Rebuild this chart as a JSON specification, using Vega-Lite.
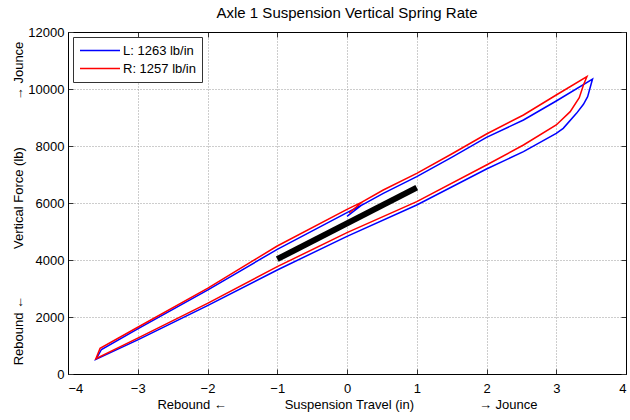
{
  "$schema": "https://vega.github.io/schema/vega-lite/v6.json",
  "width": 558,
  "height": 342,
  "autosize": {"type": "none"},
  "padding": {"left": 68, "top": 32, "right": 4, "bottom": 46},
  "background": "white",
  "config": {
    "font": "Liberation Sans",
    "view": {"stroke": "black", "strokeWidth": 1},
    "axis": {
      "labelFont": "Liberation Sans",
      "labelFontSize": 13,
      "labelColor": "black",
      "titleFont": "Liberation Sans",
      "titleFontSize": 13,
      "titleFontWeight": "normal",
      "titleColor": "black",
      "domainColor": "black",
      "tickColor": "#333",
      "gridColor": "#9a9a9a",
      "gridDash": [1, 2],
      "gridWidth": 1
    }
  },
  "title": {
    "text": "Axle 1 Suspension Vertical Spring Rate",
    "font": "Liberation Sans",
    "fontSize": 15,
    "fontWeight": "normal",
    "color": "black",
    "anchor": "middle",
    "offset": 5
  },
  "datasets": {
    "loops": [
      {"side": "L: 1263 lb/in", "seq": 1, "travel": 0.0, "force": 5530},
      {"side": "L: 1263 lb/in", "seq": 2, "travel": 0.2, "force": 5910},
      {"side": "L: 1263 lb/in", "seq": 3, "travel": 0.52, "force": 6340},
      {"side": "L: 1263 lb/in", "seq": 4, "travel": 1.0, "force": 6924},
      {"side": "L: 1263 lb/in", "seq": 5, "travel": 1.5, "force": 7600},
      {"side": "L: 1263 lb/in", "seq": 6, "travel": 2.0, "force": 8304},
      {"side": "L: 1263 lb/in", "seq": 7, "travel": 2.53, "force": 8912},
      {"side": "L: 1263 lb/in", "seq": 8, "travel": 3.0, "force": 9579},
      {"side": "L: 1263 lb/in", "seq": 9, "travel": 3.52, "force": 10350},
      {"side": "L: 1263 lb/in", "seq": 10, "travel": 3.45, "force": 9731},
      {"side": "L: 1263 lb/in", "seq": 11, "travel": 3.39, "force": 9462},
      {"side": "L: 1263 lb/in", "seq": 12, "travel": 3.29, "force": 9146},
      {"side": "L: 1263 lb/in", "seq": 13, "travel": 3.1, "force": 8620},
      {"side": "L: 1263 lb/in", "seq": 14, "travel": 3.0, "force": 8444},
      {"side": "L: 1263 lb/in", "seq": 15, "travel": 2.53, "force": 7801},
      {"side": "L: 1263 lb/in", "seq": 16, "travel": 2.0, "force": 7193},
      {"side": "L: 1263 lb/in", "seq": 17, "travel": 1.0, "force": 5930},
      {"side": "L: 1263 lb/in", "seq": 18, "travel": 0.0, "force": 4830},
      {"side": "L: 1263 lb/in", "seq": 19, "travel": -1.0, "force": 3649},
      {"side": "L: 1263 lb/in", "seq": 20, "travel": -2.0, "force": 2400},
      {"side": "L: 1263 lb/in", "seq": 21, "travel": -3.0, "force": 1200},
      {"side": "L: 1263 lb/in", "seq": 22, "travel": -3.6, "force": 515},
      {"side": "L: 1263 lb/in", "seq": 23, "travel": -3.52, "force": 860},
      {"side": "L: 1263 lb/in", "seq": 24, "travel": -3.0, "force": 1580},
      {"side": "L: 1263 lb/in", "seq": 25, "travel": -2.0, "force": 2940},
      {"side": "L: 1263 lb/in", "seq": 26, "travel": -1.0, "force": 4374},
      {"side": "L: 1263 lb/in", "seq": 27, "travel": 0.0, "force": 5661},
      {"side": "L: 1263 lb/in", "seq": 28, "travel": 0.25, "force": 5980},
      {"side": "R: 1257 lb/in", "seq": 1, "travel": 0.03, "force": 5650},
      {"side": "R: 1257 lb/in", "seq": 2, "travel": 0.22, "force": 6040},
      {"side": "R: 1257 lb/in", "seq": 3, "travel": 0.52, "force": 6456},
      {"side": "R: 1257 lb/in", "seq": 4, "travel": 1.0, "force": 7041},
      {"side": "R: 1257 lb/in", "seq": 5, "travel": 1.5, "force": 7720},
      {"side": "R: 1257 lb/in", "seq": 6, "travel": 2.0, "force": 8421},
      {"side": "R: 1257 lb/in", "seq": 7, "travel": 2.53, "force": 9088},
      {"side": "R: 1257 lb/in", "seq": 8, "travel": 3.0, "force": 9790},
      {"side": "R: 1257 lb/in", "seq": 9, "travel": 3.44, "force": 10433},
      {"side": "R: 1257 lb/in", "seq": 10, "travel": 3.39, "force": 10140},
      {"side": "R: 1257 lb/in", "seq": 11, "travel": 3.33, "force": 9696},
      {"side": "R: 1257 lb/in", "seq": 12, "travel": 3.2, "force": 9205},
      {"side": "R: 1257 lb/in", "seq": 13, "travel": 3.0, "force": 8737},
      {"side": "R: 1257 lb/in", "seq": 14, "travel": 2.53, "force": 8035},
      {"side": "R: 1257 lb/in", "seq": 15, "travel": 2.0, "force": 7333},
      {"side": "R: 1257 lb/in", "seq": 16, "travel": 1.0, "force": 6047},
      {"side": "R: 1257 lb/in", "seq": 17, "travel": 0.0, "force": 4960},
      {"side": "R: 1257 lb/in", "seq": 18, "travel": -1.0, "force": 3766},
      {"side": "R: 1257 lb/in", "seq": 19, "travel": -2.0, "force": 2480},
      {"side": "R: 1257 lb/in", "seq": 20, "travel": -3.0, "force": 1260},
      {"side": "R: 1257 lb/in", "seq": 21, "travel": -3.6, "force": 540},
      {"side": "R: 1257 lb/in", "seq": 22, "travel": -3.54, "force": 900},
      {"side": "R: 1257 lb/in", "seq": 23, "travel": -3.0, "force": 1640},
      {"side": "R: 1257 lb/in", "seq": 24, "travel": -2.0, "force": 3006},
      {"side": "R: 1257 lb/in", "seq": 25, "travel": -1.0, "force": 4491},
      {"side": "R: 1257 lb/in", "seq": 26, "travel": 0.0, "force": 5778},
      {"side": "R: 1257 lb/in", "seq": 27, "travel": 0.22, "force": 6040}
    ],
    "fit": [
      {"travel": -1.0, "force": 4030},
      {"travel": 1.0, "force": 6540}
    ]
  },
  "layer": [
    {
      "data": {"name": "loops"},
      "mark": {"type": "line", "strokeWidth": 1.5},
      "encoding": {
        "x": {
          "field": "travel",
          "type": "quantitative",
          "scale": {"domain": [-4, 4], "nice": false, "zero": false},
          "axis": {
            "values": [-4, -3, -2, -1, 0, 1, 2, 3, 4],
            "format": "d",
            "tickSize": -5,
            "labelPadding": 13,
            "title": "Rebound ←\u00a0\u00a0\u00a0\u00a0\u00a0\u00a0\u00a0\u00a0\u00a0\u00a0\u00a0\u00a0\u00a0\u00a0\u00a0\u00a0Suspension Travel (in)\u00a0\u00a0\u00a0\u00a0\u00a0\u00a0\u00a0\u00a0\u00a0\u00a0\u00a0\u00a0\u00a0\u00a0\u00a0\u00a0\u00a0\u00a0→ Jounce",
            "titlePadding": 3
          }
        },
        "y": {
          "field": "force",
          "type": "quantitative",
          "scale": {"domain": [0, 12000], "nice": false},
          "axis": {
            "values": [0, 2000, 4000, 6000, 8000, 10000, 12000],
            "format": "d",
            "tickSize": -5,
            "labelPadding": 9,
            "title": "Rebound ←\u00a0\u00a0\u00a0\u00a0\u00a0\u00a0\u00a0\u00a0\u00a0\u00a0\u00a0\u00a0\u00a0Vertical Force (lb)\u00a0\u00a0\u00a0\u00a0\u00a0\u00a0\u00a0\u00a0\u00a0\u00a0\u00a0\u00a0\u00a0→ Jounce",
            "titlePadding": 2
          }
        },
        "color": {
          "field": "side",
          "type": "nominal",
          "scale": {"domain": ["L: 1263 lb/in", "R: 1257 lb/in"], "range": ["#0000ff", "#ff0000"]},
          "legend": {
            "title": null,
            "orient": "top-left",
            "offset": 5,
            "padding": 6,
            "fillColor": "white",
            "strokeColor": "#333",
            "symbolType": "stroke",
            "symbolSize": 1600,
            "symbolStrokeWidth": 1.5,
            "clipHeight": 15,
            "labelFont": "Liberation Sans",
            "labelFontSize": 13,
            "labelColor": "black",
            "labelOffset": 2,
            "rowPadding": 3
          }
        },
        "order": {"field": "seq", "type": "quantitative"}
      }
    },
    {
      "data": {"name": "fit"},
      "mark": {"type": "line", "strokeWidth": 6, "color": "black", "strokeCap": "butt"},
      "encoding": {
        "x": {
          "field": "travel",
          "type": "quantitative",
          "axis": {
            "orient": "top",
            "values": [-4, -3, -2, -1, 0, 1, 2, 3, 4],
            "labels": false,
            "grid": false,
            "tickSize": -5,
            "title": null
          }
        },
        "y": {
          "field": "force",
          "type": "quantitative",
          "axis": {
            "orient": "right",
            "values": [0, 2000, 4000, 6000, 8000, 10000, 12000],
            "labels": false,
            "grid": false,
            "tickSize": -5,
            "title": null
          }
        }
      }
    }
  ],
  "resolve": {"axis": {"x": "independent", "y": "independent"}}
}
